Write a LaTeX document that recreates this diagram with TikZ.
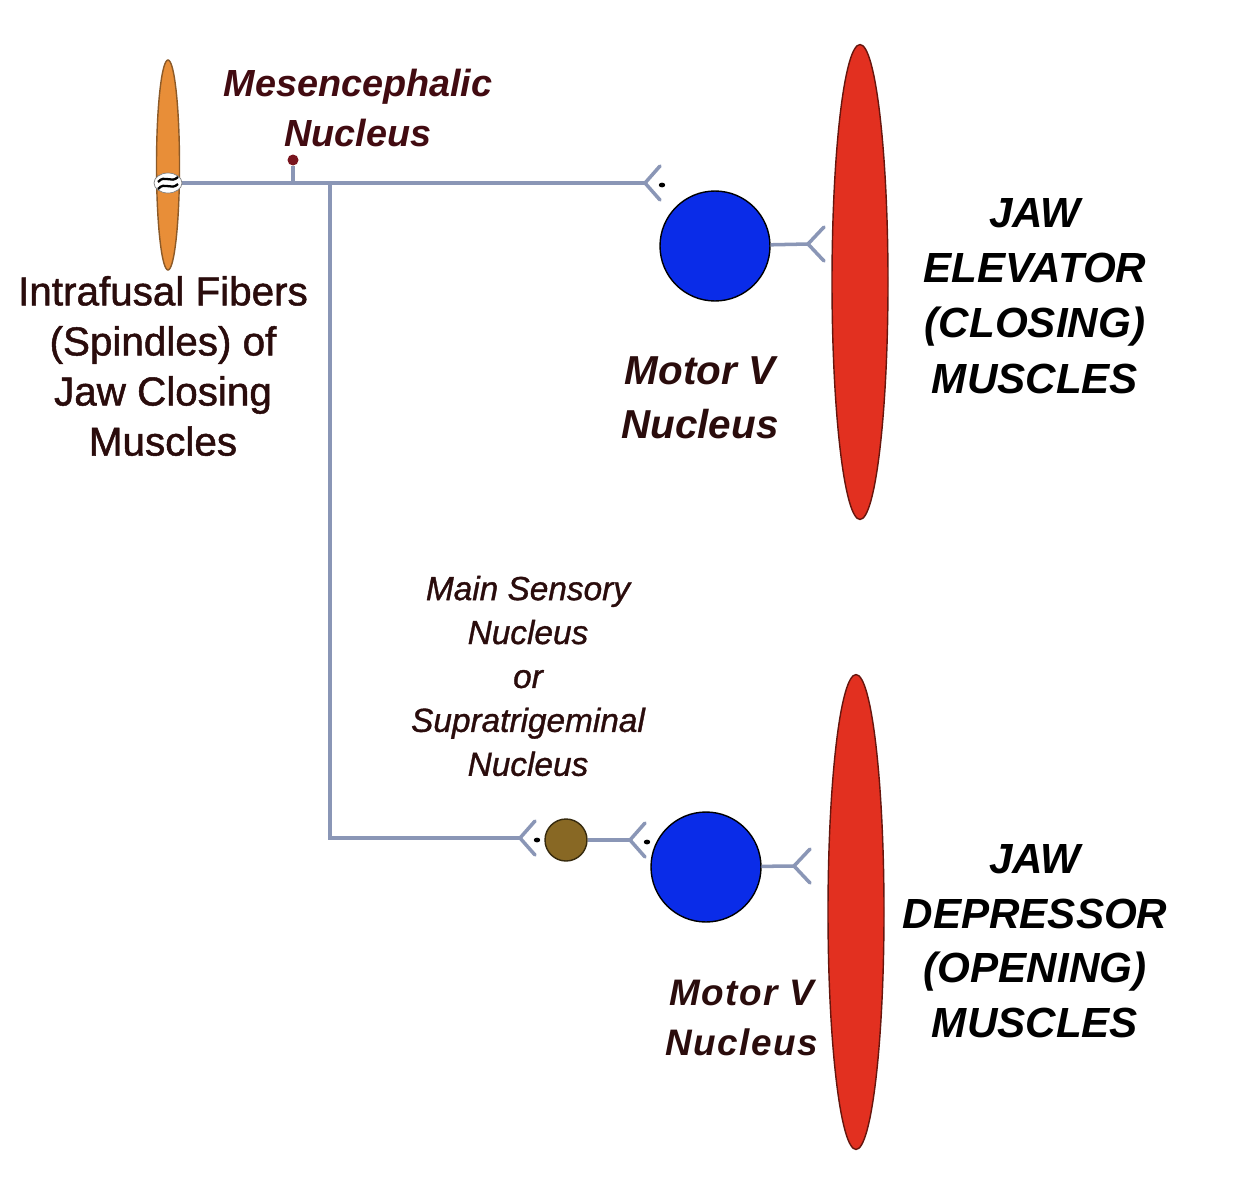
\documentclass[tikz,border=0pt]{standalone}
\usepackage{fontspec}
\setmainfont{Liberation Sans}
\usepackage{tikz}
\usetikzlibrary{shapes.geometric, positioning, calc}
\definecolor{axongray}{RGB}{138,150,182}
\definecolor{spindleorange}{RGB}{232,142,56}
\definecolor{spindlebrown}{RGB}{140,90,40}
\definecolor{musclered}{RGB}{226,48,32}
\definecolor{motorblue}{RGB}{10,44,232}
\definecolor{sensbrown}{RGB}{136,104,36}
\definecolor{mesred}{RGB}{120,20,30}
\definecolor{labeldark}{RGB}{42,12,12}
\tikzset{
  axon/.style={line width=2pt, color=axongray},
  spindle/.style={
    ellipse, minimum width=0.46cm, minimum height=4.2cm, inner sep=0pt,
    draw=spindlebrown, fill=spindleorange, thick
  },
  muscle/.style={
    ellipse, minimum width=1.12cm, minimum height=9.5cm, inner sep=0pt,
    draw=musclered!45!black, fill=musclered, thick
  },
  motorcell/.style={
    circle, minimum size=2.2cm, inner sep=0pt,
    draw=black, fill=motorblue, thick
  },
  senscell/.style={
    circle, minimum size=0.84cm, inner sep=0pt,
    draw=sensbrown!40!black, fill=sensbrown, thick
  },
  mescell/.style={circle, minimum size=0.22cm, inner sep=0pt, fill=mesred},
  txt/.style={align=center, text=labeldark, inner sep=0pt,
    font=\fontsize{23}{28.5}\selectfont\addfontfeature{FakeBold=1.2}},
  ending/.pic={
    \draw[axon, line cap=round] (0,0) -- (16,-17);
    \draw[axon, line cap=round] (0,0) -- (16,17);
  },
  synapse/.pic={
    \draw[axon, line cap=round] (0,0) -- (15,-17);
    \draw[axon, line cap=round] (0,0) -- (15,17);
    \fill[black] (17,2) ellipse (3.2 and 2.4);
  }
}
\begin{document}
\begin{tikzpicture}[x=0.02cm, y=-0.02cm]
  \useasboundingbox[fill=white] (0,0) rectangle (1247,1200);

  % cells and muscles
  \node[spindle] (spindle) at (168,165) {};
  \node[muscle] (elevator) at (860,282) {};
  \node[muscle] (depressor) at (856,912) {};
  \node[motorcell] (motorA) at (715,246) {};
  \node[motorcell] (motorB) at (706,867) {};
  \node[senscell] (sens) at (566,840) {};
  \node[mescell] (mes) at (293,160) {};

  % points along the afferent fibre
  \coordinate (coil) at (168,183);
  \coordinate (branch) at (330,183);
  \coordinate (t1) at (645,183);
  \coordinate (t2) at (520,838);
  \coordinate (t3) at (630,840);
  \coordinate (e1) at (808,244);
  \coordinate (e2) at (794,866);

  % axons
  \draw[axon] (coil) -- (t1);
  \draw[axon] (mes) -- (mes |- coil);
  \draw[axon] (branch) |- (t2);
  \draw[axon] (sens) -- (t3);
  \draw[axon] (motorA) -- (e1);
  \draw[axon] (motorB) -- (e2);
  \pic at (t1) {synapse};
  \pic at (t2) {synapse};
  \pic at (t3) {synapse};
  \pic at (e1) {ending};
  \pic at (e2) {ending};

  % annulospiral ending on the spindle
  \node[ellipse, fill=white, draw=gray, minimum width=0.56cm,
    minimum height=0.4cm, inner sep=0pt] (ring) at (coil) {};
  \draw[black, line width=1.3pt] ($(ring)+(-10,-1)$)
    .. controls ($(ring)+(-3,-9)$) and ($(ring)+(3,1)$) .. ($(ring)+(10,-6)$);
  \draw[black, line width=1.3pt] ($(ring)+(-10,6)$)
    .. controls ($(ring)+(-3,-2)$) and ($(ring)+(3,8)$) .. ($(ring)+(10,1)$);

  % labels
  \node[txt, font=\fontsize{21.5}{28.5}\selectfont\bfseries\itshape,
    text=mesred!55!black] (meslbl) at (358,108) {Mesencephalic\\Nucleus};
  \node[txt] (spinlbl) at (163,366) {Intrafusal Fibers\\(Spindles) of\\Jaw Closing\\Muscles};
  \node[txt, font=\fontsize{23}{31}\selectfont\bfseries\itshape]
    (motorAlbl) at (700,398) {Motor V\\Nucleus};
  \node[txt, font=\fontsize{24}{31.5}\selectfont\bfseries\itshape, text=black]
    (elevlbl) at (1035,296) {JAW\\ELEVATOR\\(CLOSING)\\MUSCLES};
  \node[txt, font=\fontsize{19}{25}\selectfont\itshape\addfontfeature{FakeBold=1}]
    (senslbl) at (528,676) {Main Sensory\\Nucleus\\or\\Supratrigeminal\\Nucleus};
  \node[txt, font=\fontsize{21}{28}\selectfont\bfseries\itshape\addfontfeature{LetterSpace=4}]
    (motorBlbl) at (742,1018) {Motor V\\Nucleus};
  \node[txt, font=\fontsize{24}{31}\selectfont\bfseries\itshape, text=black]
    (deprlbl) at (1035,941) {JAW\\DEPRESSOR\\(OPENING)\\MUSCLES};
\end{tikzpicture}
\end{document}
